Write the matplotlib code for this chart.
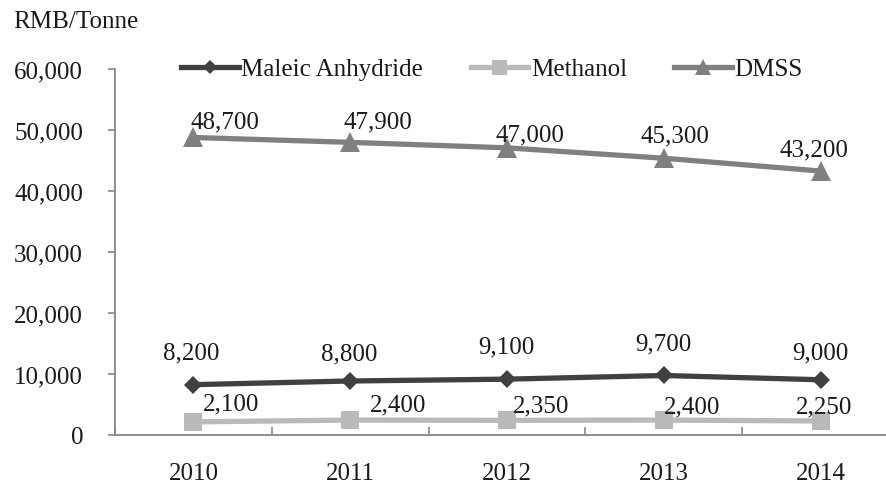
import matplotlib
matplotlib.use("Agg")
import matplotlib.pyplot as plt
import numpy as np

plt.rcParams['font.family'] = ['Liberation Serif', 'DejaVu Serif']

# chart data
years = ['2010', '2011', '2012', '2013', '2014']
maleic = [8200, 8800, 9100, 9700, 9000]
methanol = [2100, 2400, 2350, 2400, 2250]
dmss = [48700, 47900, 47000, 45300, 43200]

# label placement (pixel offsets from each point, baseline of text)
maleic_off = [(-2, 26), (-1, 22), (-1, 27), (0, 26), (0, 21)]
methanol_off = [(38, 12), (48, 10), (34, 9), (28, 8), (3, 9)]
dmss_off = [(32, 10), (28, 15), (23, 7), (11, 17), (-7, 16)]

C_MALEIC = '#404040'
C_METH = '#bababa'
C_DMSS = '#808080'
FS = 18

fig = plt.figure(figsize=(8.86, 4.85), dpi=100)
ax = fig.add_axes([115 / 886, 49.3 / 485, 784 / 886, 366.2 / 485])

x = np.arange(len(years))
series = [
    ("Maleic Anhydride", maleic, C_MALEIC, 'D', 8.9, maleic_off),
    ("Methanol", methanol, C_METH, 's', 13.5, methanol_off),
    ("DMSS", dmss, C_DMSS, '^', 14.0, dmss_off),
]

handles = []
for name, vals, col, mk, ms, offs in series:
    ln, = ax.plot(x, vals, color=col, lw=3.8, marker=mk, markersize=ms,
                  markeredgewidth=0, label=name, zorder=3)
    handles.append(ln)
    for xi, v, (dx, dy) in zip(x, vals, offs):
        ax.annotate(f"{v:,}", (xi, v), xytext=(dx, dy), textcoords='offset pixels',
                    ha='center', va='baseline', fontsize=FS, color='#1a1a1a',
                    zorder=4)

ax.set_xlim(-0.5, 4.5)
ax.set_ylim(0, 60000)
ax.set_yticks(np.arange(0, 60001, 10000))
ax.set_yticklabels([f"{v:,}" for v in range(0, 60001, 10000)])
ax.set_xticks(x)
ax.set_xticklabels(years)
ax.set_xticks(np.arange(-0.5, 4.6, 1), minor=True)

for s in ['top', 'right']:
    ax.spines[s].set_visible(False)
for s in ['left', 'bottom']:
    ax.spines[s].set_color('#868686')
    ax.spines[s].set_linewidth(1.3)

ax.tick_params(axis='y', direction='out', length=5, width=1.2, color='#868686',
               labelsize=FS, labelcolor='#1a1a1a', pad=18)
ax.tick_params(axis='x', which='major', length=0, labelsize=FS,
               labelcolor='#1a1a1a', pad=19.5)
ax.tick_params(axis='x', which='minor', direction='in', length=6, width=1.2,
               color='#868686')

fig.text(13 / 886, 1 - 28 / 485, "RMB/Tonne", fontsize=FS, color='#1a1a1a',
         ha='left', va='baseline')

fig.legend(handles=handles, loc='center', bbox_to_anchor=(492 / 886, 1 - 70 / 485),
           ncol=3, frameon=False, fontsize=FS, handlelength=2.3,
           handletextpad=0.1, columnspacing=1.9, markerscale=0.8,
           labelcolor='#1a1a1a')

fig.savefig("out.png", dpi=100)
